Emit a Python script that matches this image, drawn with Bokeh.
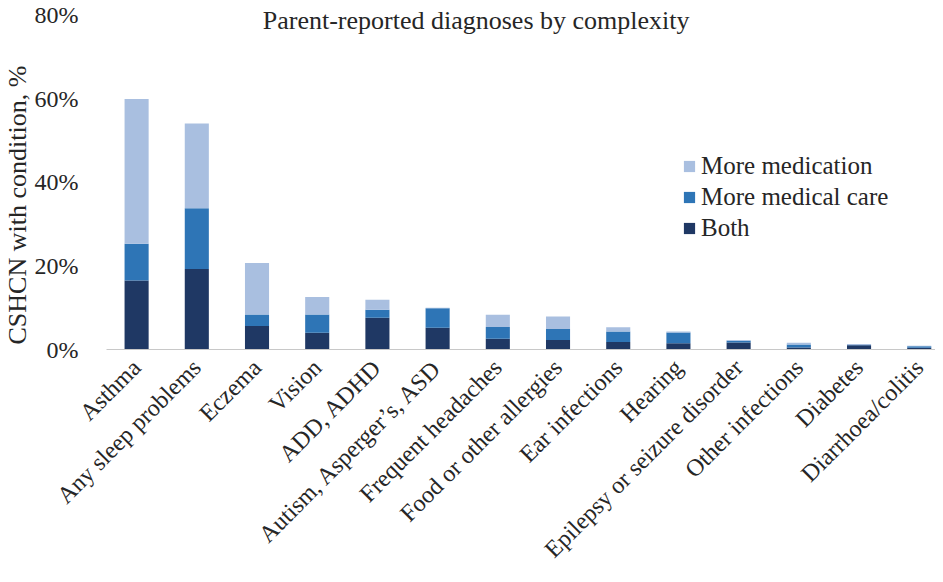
import math
from bokeh.plotting import figure
from bokeh.models import (ColumnDataSource, Range1d, FixedTicker, PrintfTickFormatter,
                          Legend, LegendItem, Label, Title)
from bokeh.embed import file_html
from bokeh.resources import INLINE

categories = ["Asthma", "Any sleep problems", "Eczema", "Vision", "ADD, ADHD",
              "Autism, Asperger\u2019s, ASD", "Frequent headaches", "Food or other allergies",
              "Ear infections", "Hearing", "Epilepsy or seizure disorder",
              "Other infections", "Diabetes", "Diarrhoea/colitis"]
both = [16.5, 19.3, 5.6, 4.0, 7.6, 5.2, 2.6, 2.3, 1.8, 1.5, 1.7, 0.5, 1.0, 0.4]
more_care = [8.8, 14.5, 2.8, 4.4, 1.9, 4.7, 2.8, 2.6, 2.5, 2.6, 0.4, 0.7, 0.1, 0.4]
more_medication = [34.7, 20.3, 12.3, 4.2, 2.4, 0.1, 2.9, 3.0, 1.0, 0.2, 0.2, 0.4, 0.2, 0.1]
y_ticks = [0, 20, 40, 60, 80]
title_text = "Parent-reported diagnoses by complexity"
y_title = "CSHCN with condition, %"
series_names = ["Both", "More medical care", "More medication"]
colors = ["#1f3864", "#2e75b6", "#a9bfe0"]

FONT = "Liberation Serif"
TXT = "#262626"

src = ColumnDataSource(dict(x=list(range(len(categories))), both=both,
                            care=more_care, med=more_medication))

p = figure(width=935, height=574, output_backend="svg", toolbar_location=None,
           x_range=Range1d(-0.5, 13.27), y_range=Range1d(0, 83.1),
           min_border_left=105, min_border_right=0, min_border_top=2, min_border_bottom=224)
p.outline_line_color = None
p.grid.visible = False

rs = p.vbar_stack(["both", "care", "med"], x="x", width=0.4, color=colors,
                  line_color=None, source=src)

# axes
p.xaxis.ticker = FixedTicker(ticks=list(range(len(categories))))
p.xaxis.major_label_overrides = {i: c for i, c in enumerate(categories)}
p.xaxis.major_label_orientation = math.pi / 4
p.xaxis.major_tick_line_color = None
p.xaxis.minor_tick_line_color = None
p.xaxis.axis_line_color = "#c8c8c8"
p.xaxis.major_label_text_font = FONT
p.xaxis.major_label_text_font_size = "24px"
p.xaxis.major_label_text_color = TXT
p.xaxis.major_label_standoff = 8

p.yaxis.ticker = FixedTicker(ticks=y_ticks)
p.yaxis.formatter = PrintfTickFormatter(format="%d%%")
p.yaxis.axis_line_color = None
p.yaxis.major_tick_line_color = None
p.yaxis.minor_tick_line_color = None
p.yaxis.major_label_text_font = FONT
p.yaxis.major_label_text_font_size = "24px"
p.yaxis.major_label_text_color = TXT
p.yaxis.major_label_standoff = 22

# y-axis title
p.add_layout(Title(text=y_title, align="left", offset=5, standoff=0,
                   text_font=FONT, text_font_size="26px", text_font_style="normal",
                   text_color=TXT), "left")

# chart title (inside the plot area)
p.add_layout(Label(x=5.64, y=78.8, text=title_text, text_align="center",
                   text_baseline="middle", text_font=FONT, text_font_size="26px",
                   text_color=TXT))

legend = Legend(items=[LegendItem(label=series_names[i], renderers=[rs[i]]) for i in (2, 1, 0)],
                location=(576, 106), orientation="vertical",
                glyph_width=14, glyph_height=14, label_standoff=5, spacing=0,
                padding=0, margin=0, border_line_color=None, background_fill_alpha=0,
                label_text_font=FONT, label_text_font_size="25px", label_text_color=TXT,
                label_height=31)
p.add_layout(legend)

open("out.html", "w").write(file_html(p, INLINE))
